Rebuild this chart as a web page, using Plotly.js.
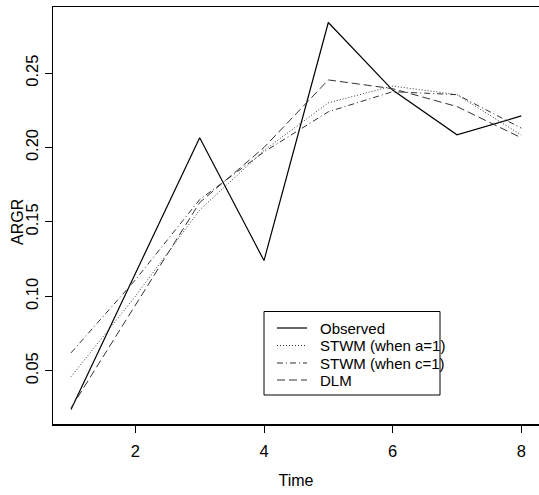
<!DOCTYPE html>
<html>
<head>
<meta charset="utf-8">
<script src="https://cdn.plot.ly/plotly-3.0.1.min.js"></script>
<style>html,body{margin:0;padding:0;background:#fff;}#chart{width:539px;height:495px;}</style>
</head>
<body>
<div id="chart"></div>
<script>
const time = [1, 2, 3, 4, 5, 6, 7, 8];
const observed = [0.024, 0.115, 0.2066, 0.124, 0.284, 0.2386, 0.2085, 0.2212];
const stwmA = [0.046, 0.100, 0.158, 0.198, 0.230, 0.2413, 0.2355, 0.2084];
const stwmC = [0.062, 0.111, 0.165, 0.197, 0.224, 0.2375, 0.2355, 0.213];
const dlm = [0.025, 0.094, 0.163, 0.200, 0.2454, 0.2395, 0.2275, 0.2065];
const seriesNames = ["Observed", "STWM (when a=1)", "STWM (when c=1)", "DLM"];
const xTicks = [2, 4, 6, 8];
const yTicks = [0.05, 0.10, 0.15, 0.20, 0.25];
const yTickText = ["0.05", "0.10", "0.15", "0.20", "0.25"];

const FONT = "Liberation Sans, Arial, Helvetica, sans-serif";
const styles = [
  {color: "#000", width: 1.2, dash: "solid"},
  {color: "#333", width: 1, dash: "1px,2px"},
  {color: "#333", width: 1, dash: "6px,3px,1px,3px"},
  {color: "#333", width: 1, dash: "8px,4px"}
];
const seriesData = [observed, stwmA, stwmC, dlm];

const traces = seriesData.map((ys, i) => ({
  x: time, y: ys, name: seriesNames[i], mode: "lines", line: styles[i], showlegend: false
}));

// Plot area in pixels: x 53..539, y 7..424
const M = {l: 53, t: 7, r: 0, b: 71};
const PW = 539 - M.l, PH = 495 - M.t - M.b;
const px = x => (x - M.l) / PW;
const py = y => (M.t + PH - y) / PH;

// Manual R-style legend (box, samples, labels)
const shapes = [{
  type: "rect", xref: "paper", yref: "paper",
  x0: px(264), x1: px(440), y0: py(395), y1: py(311.5),
  line: {color: "#000", width: 1}, fillcolor: "#fff", layer: "above"
}];
const annotations = [];
const rowY = [328, 345.5, 363, 380];
seriesNames.forEach((nm, i) => {
  shapes.push({type: "line", xref: "paper", yref: "paper",
    x0: px(277), x1: px(307), y0: py(rowY[i]), y1: py(rowY[i]),
    line: {color: styles[i].color, width: styles[i].width, dash: styles[i].dash}, layer: "above"});
  annotations.push({xref: "paper", yref: "paper", x: px(318), y: py(rowY[i]),
    xanchor: "left", yanchor: "middle", text: nm, showarrow: false,
    font: {family: FONT, size: 15, color: "#000"}});
});
annotations.push({xref: "paper", yref: "paper", x: px(17), y: py(222),
  xanchor: "center", yanchor: "middle", text: "ARGR", textangle: -90, showarrow: false,
  font: {family: FONT, size: 16, color: "#000"}});

const layout = {
  width: 539, height: 495,
  margin: M,
  paper_bgcolor: "#fff", plot_bgcolor: "#fff",
  font: {family: FONT, size: 16, color: "#000"},
  showlegend: false,
  shapes: shapes,
  annotations: annotations,
  xaxis: {
    range: [0.72, 8.275], tickvals: xTicks, ticktext: xTicks.map(String),
    showgrid: false, zeroline: false,
    showline: true, mirror: true, linecolor: "#000", linewidth: 1.5,
    ticks: "outside", ticklen: 7, tickwidth: 1, tickcolor: "#000",
    tickfont: {family: FONT, size: 16.5}, ticklabelstandoff: 5,
    title: {text: "Time", font: {family: FONT, size: 16}, standoff: 15},
    automargin: false
  },
  yaxis: {
    range: [0.0142, 0.2944], tickvals: yTicks, ticktext: yTickText,
    tickangle: -90,
    showgrid: false, zeroline: false,
    showline: true, mirror: false, linecolor: "#000", linewidth: 1.5,
    ticks: "outside", ticklen: 7, tickwidth: 1, tickcolor: "#000",
    tickfont: {family: FONT, size: 16.5},
    automargin: false
  }
};

Plotly.newPlot("chart", traces, layout, {staticPlot: true, displayModeBar: false});
</script>
</body>
</html>
